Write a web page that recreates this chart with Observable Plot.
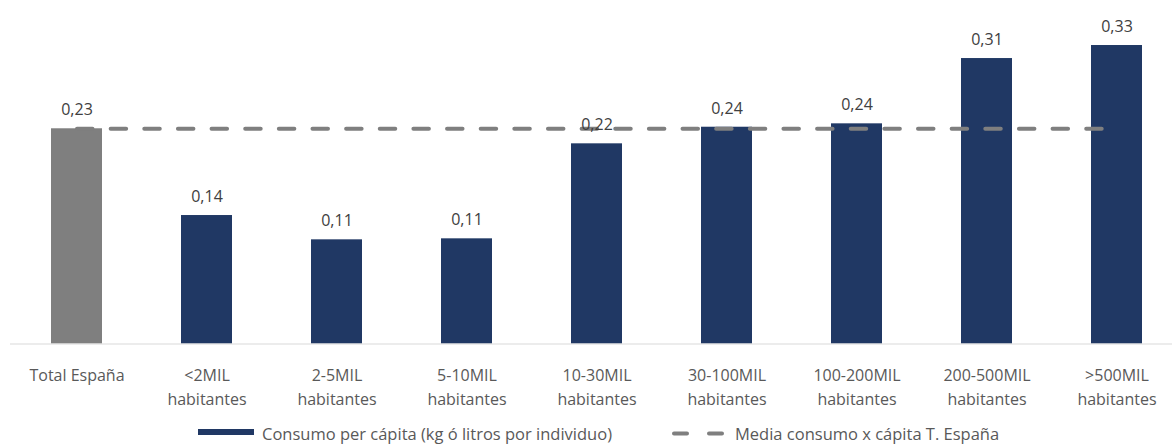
<!DOCTYPE html>
<html>
<head>
<meta charset="utf-8">
<script src="https://cdn.jsdelivr.net/npm/d3@7"></script>
<script src="https://cdn.jsdelivr.net/npm/@observablehq/plot@0.6"></script>
<style>
  html, body { margin: 0; padding: 0; background: #fff; }
  #wrap { width: 1172px; height: 444px; overflow: hidden; }
  #wrap svg { display: block; }
</style>
</head>
<body>
<div id="wrap"></div>
<script>
// ---- data ----
const categories = [
  "Total España",
  "<2MIL\nhabitantes",
  "2-5MIL\nhabitantes",
  "5-10MIL\nhabitantes",
  "10-30MIL\nhabitantes",
  "30-100MIL\nhabitantes",
  "100-200MIL\nhabitantes",
  "200-500MIL\nhabitantes",
  ">500MIL\nhabitantes"
];
const values = [0.2347, 0.1401, 0.1136, 0.1147, 0.2183, 0.2364, 0.2401, 0.3113, 0.3255];
const meanValue = 0.2347;
const seriesNames = [
  "Consumo per cápita (kg ó litros por individuo)",
  "Media consumo x cápita T. España"
];

const FONT = "'Open Sans', Lato, sans-serif";
const NAVY = "#203864";
const GRAY = "#7f7f7f";

const data = categories.map((c, i) => ({
  cat: c,
  value: values[i],
  color: i === 0 ? GRAY : NAVY,
  mean: meanValue
}));

const fmt = v => v.toFixed(2).replace(".", ",");

const chart = Plot.plot({
  width: 1172,
  height: 418,
  marginLeft: 10,
  marginRight: 0,
  marginTop: 0,
  marginBottom: 0,
  style: { fontFamily: FONT, fontSize: "16px", background: "#fff", overflow: "visible" },
  x: { domain: categories, range: [24.1, 1169], paddingInner: 0.61, paddingOuter: 0.2, axis: null },
  y: { domain: [0, 0.35], range: [343.5, 22.55], axis: null },
  color: { type: "identity" },
  marks: [
    Plot.barY(data, { x: "cat", y: "value", fill: "color" }),
    Plot.ruleY([0], { stroke: "#d9d9d9", strokeWidth: 1 }),
    Plot.lineY(data, {
      x: "cat", y: "mean",
      stroke: GRAY, strokeWidth: 4,
      strokeDasharray: "15.5,18.14", strokeLinecap: "round"
    }),
    Plot.text(data, { x: "cat", y: "value", text: d => fmt(d.value), dy: -18.5, fill: "#404040" }),
    Plot.text(data, {
      x: "cat", y: () => 0, text: "cat",
      lineAnchor: "top", dy: 20.8, lineHeight: 1.46, fill: "#595959"
    })
  ]
});

const wrap = document.getElementById("wrap");
wrap.appendChild(chart);

// ---- legend (below the chart) ----
const legend = d3.create("svg")
  .attr("width", 1172).attr("height", 26)
  .style("display", "block")
  .style("font-family", FONT).style("font-size", "16.5px");

legend.append("rect")
  .attr("x", 198).attr("y", 11).attr("width", 56).attr("height", 6)
  .attr("fill", NAVY);
legend.append("text")
  .attr("x", 262).attr("y", 22).attr("fill", "#595959")
  .text(seriesNames[0]);

legend.append("line")
  .attr("x1", 674).attr("x2", 723).attr("y1", 15.5).attr("y2", 15.5)
  .attr("stroke", GRAY).attr("stroke-width", 4)
  .attr("stroke-linecap", "round").attr("stroke-dasharray", "13,22");
legend.append("text")
  .attr("x", 735).attr("y", 22).attr("fill", "#595959")
  .text(seriesNames[1]);

wrap.appendChild(legend.node());
</script>
</body>
</html>
